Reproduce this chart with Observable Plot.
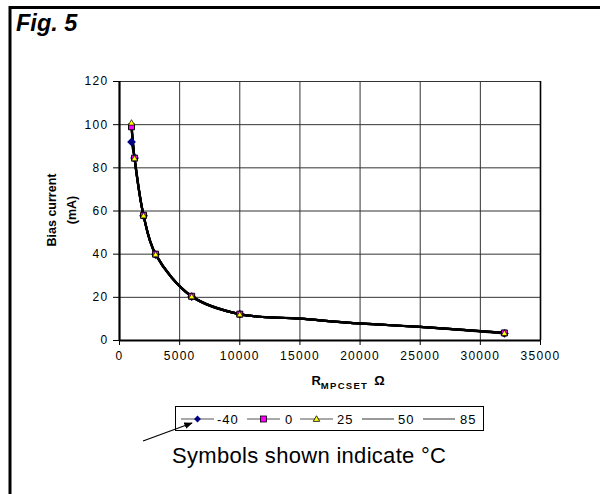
<!DOCTYPE html>
<html>
<head>
<meta charset="utf-8">
<script src="https://cdn.jsdelivr.net/npm/d3@7"></script>
<script src="https://cdn.jsdelivr.net/npm/@observablehq/plot@0.6"></script>
<style>
  body { margin: 0; background: #fff; }
  #wrap { position: relative; width: 600px; height: 494px; overflow: hidden; font-family: "Liberation Sans", Arial, sans-serif; }
  #wrap svg { position: absolute; left: 0; top: 0; }
  #wrap > svg:first-child text { letter-spacing: 1.3px; }
</style>
</head>
<body>
<div id="wrap"></div>
<script>
// ---- data ----
const rValues = [1000, 1250, 2000, 3000, 6000, 10000, 15000, 20000, 25000, 32000];
const rMarked = [1000, 1250, 2000, 3000, 6000, 10000, 32000];
const iMinus40 = [92, 84.5, 57.8, 39.8, 20.3, 12.2, 10.1, 7.9, 6.3, 3.3];
const i0 = [99, 84.5, 58, 40, 20.5, 12.2, 10.1, 7.9, 6.3, 3.5];
const i25 = [101, 84.5, 58, 40, 20.5, 12.2, 10.1, 7.9, 6.3, 3.5];
const i50 = [99, 84.5, 58, 40, 20.5, 12.2, 10.1, 7.9, 6.3, 3.5];
const i85 = [99, 84.5, 58, 40, 20.5, 12.2, 10.1, 7.9, 6.3, 3.5];
const xTicks = [0, 5000, 10000, 15000, 20000, 25000, 30000, 35000];
const yTicks = [0, 20, 40, 60, 80, 100, 120];
const seriesNames = ["-40", "0", "25", "50", "85"];

const mk = (ys, s) => rValues.map((x, i) => ({r: x, i: ys[i], s}));
const dM40 = mk(iMinus40, "-40");
const d0 = mk(i0, "0");
const d25 = mk(i25, "25");
const d50 = mk(i50, "50");
const d85 = mk(i85, "85");
const marked = d => d.filter(p => rMarked.includes(p.r));

const lineOpts = {x: "r", y: "i", curve: "catmull-rom", stroke: "#000", strokeWidth: 2.2};
const chart = Plot.plot({
  width: 600, height: 494,
  marginLeft: 119, marginRight: 60, marginTop: 81, marginBottom: 154,
  style: {fontFamily: "'Liberation Sans', Arial, sans-serif", fontSize: "12px", color: "#000", background: "transparent"},
  x: {domain: [0, 35000]},
  y: {domain: [0, 120]},
  marks: [
    Plot.gridX(xTicks, {stroke: "#333", strokeOpacity: 1, strokeWidth: 1}),
    Plot.gridY(yTicks, {stroke: "#333", strokeOpacity: 1, strokeWidth: 1}),
    Plot.ruleX([35000], {stroke: "#000", strokeWidth: 1.6}),
    Plot.axisX(xTicks, {tickFormat: d => String(d), tickSize: 5, tickPadding: 6, stroke: "#000", fill: "#000", fontSize: 12, label: null}),
    Plot.axisY(yTicks, {tickFormat: d => String(d), tickSize: 6, tickPadding: 5, stroke: "#000", fill: "#000", fontSize: 12, label: null}),
    Plot.line(d85, lineOpts),
    Plot.line(d50, lineOpts),
    Plot.line(dM40, lineOpts),
    Plot.line(d0, lineOpts),
    Plot.line(d25, lineOpts),
    Plot.ruleX([0], {stroke: "#000", strokeWidth: 2.2}),
    Plot.ruleY([0], {stroke: "#000", strokeWidth: 2.2}),
    Plot.dot(marked(dM40), {x: "r", y: "i", symbol: "diamond2", r: 3, fill: "#000080", stroke: "#000080"}),
    Plot.dot(marked(d0), {x: "r", y: "i", symbol: "square2", r: 3.8, fill: "#ff00ff", stroke: "#000", strokeWidth: 1}),
    Plot.dot(marked(d25), {x: "r", y: "i", symbol: "triangle2", r: 3, dy: 0.8, fill: "#ffff00", stroke: "#000", strokeWidth: 0.7})
  ]
});
const wrap = document.getElementById("wrap");
wrap.appendChild(chart);

// ---- overlay: frame, titles, legend, caption ----
const ov = d3.select(wrap).append("svg").attr("width", 600).attr("height", 494)
  .style("font-family", "'Liberation Sans', Arial, sans-serif").style("pointer-events", "none");

ov.append("path").attr("d", "M10,494 V7.5 H600").attr("fill", "none").attr("stroke", "#000").attr("stroke-width", 3);
ov.append("text").attr("x", 16).attr("y", 31).attr("font-size", 23.5).attr("font-weight", "bold").attr("font-style", "italic").text("Fig. 5");

// y title
const yt = ov.append("g").attr("transform", "translate(0,210)");
yt.append("text").attr("transform", "translate(56,0) rotate(-90)").attr("text-anchor", "middle")
  .attr("font-size", 12.5).attr("font-weight", "bold").text("Bias current");
yt.append("text").attr("transform", "translate(76,0) rotate(-90)").attr("text-anchor", "middle")
  .attr("font-size", 12.5).attr("font-weight", "bold").text("(mA)");

// x title
const xt = ov.append("text").attr("x", 348).attr("y", 385).attr("text-anchor", "middle").attr("font-weight", "bold").attr("font-size", 13);
xt.append("tspan").text("R");
xt.append("tspan").attr("dy", 4).attr("font-size", 9.5).attr("letter-spacing", "1.3px").text("MPCSET");
xt.append("tspan").attr("dy", -4).attr("dx", 6).text("Ω");

// legend
ov.append("rect").attr("x", 175.5).attr("y", 406.5).attr("width", 308).attr("height", 24).attr("fill", "#fff").attr("stroke", "#000").attr("stroke-width", 1);
const legItems = [
  {x0: 181, x1: 214, tx: 217},
  {x0: 247, x1: 280, tx: 285},
  {x0: 300, x1: 333, tx: 337},
  {x0: 362, x1: 394, tx: 398},
  {x0: 423, x1: 455, tx: 460}
];
seriesNames.forEach((n, k) => {
  const it = legItems[k];
  ov.append("line").attr("x1", it.x0).attr("x2", it.x1).attr("y1", 419).attr("y2", 419).attr("stroke", "#555").attr("stroke-width", 1.2);
  const cx = (it.x0 + it.x1) / 2;
  if (n === "-40") ov.append("path").attr("d", d3.symbol(d3.symbolDiamond2, 30)()).attr("transform", `translate(${cx},419)`).attr("fill", "#000080");
  if (n === "0") ov.append("rect").attr("x", cx - 3).attr("y", 416).attr("width", 6).attr("height", 6).attr("fill", "#ff00ff").attr("stroke", "#000").attr("stroke-width", 0.8);
  if (n === "25") ov.append("path").attr("d", d3.symbol(d3.symbolTriangle2, 30)()).attr("transform", `translate(${cx},419.5)`).attr("fill", "#ffff00").attr("stroke", "#000").attr("stroke-width", 0.8);
  ov.append("text").attr("x", it.tx).attr("y", 423.5).attr("font-size", 13).attr("letter-spacing", "1px").text(n);
});

// arrow + caption
ov.append("defs").append("marker").attr("id", "ah").attr("viewBox", "0 0 10 10").attr("refX", 9).attr("refY", 5)
  .attr("markerWidth", 7).attr("markerHeight", 7).attr("orient", "auto")
  .append("path").attr("d", "M0,1 L10,5 L0,9 z").attr("fill", "#000");
ov.append("line").attr("x1", 143).attr("y1", 441).attr("x2", 192).attr("y2", 423).attr("stroke", "#000").attr("stroke-width", 1.2).attr("marker-end", "url(#ah)");
ov.append("text").attr("x", 172).attr("y", 462.5).attr("font-size", 22).attr("letter-spacing", "0.3px").text("Symbols shown indicate °C");
</script>
</body>
</html>
